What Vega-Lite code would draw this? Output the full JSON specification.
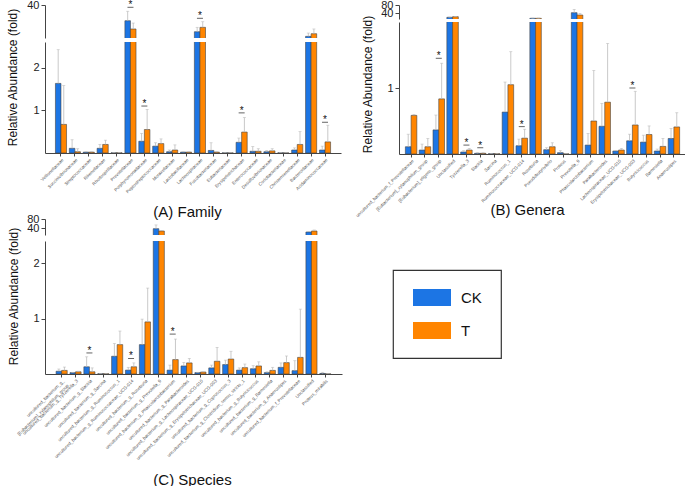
{
"$schema": "https://vega.github.io/schema/vega-lite/v6.json",
"padding": {"left": 5, "top": -1, "right": 0, "bottom": 0},
"datasets": {
"fam": [
{"taxon":"Veillonellaceae","group":"CK","mean":1.63,"upper":2.42},{"taxon":"Veillonellaceae","group":"T","mean":0.67,"upper":1.58},
{"taxon":"Succinivibrionaceae","group":"CK","mean":0.11,"upper":0.31},{"taxon":"Succinivibrionaceae","group":"T","mean":0.03,"upper":0.1},
{"taxon":"Streptococcaceae","group":"CK","mean":0.02,"upper":0.03},{"taxon":"Streptococcaceae","group":"T","mean":0.02,"upper":0.03},
{"taxon":"Rikenellaceae","group":"CK","mean":0.11,"upper":0.2},{"taxon":"Rikenellaceae","group":"T","mean":0.2,"upper":0.3},
{"taxon":"Rhodospirillaceae","group":"CK","mean":0.005,"upper":0.01},{"taxon":"Rhodospirillaceae","group":"T","mean":0.005,"upper":0.01},
{"taxon":"Prevotellaceae","group":"CK","mean":25.7,"upper":34.3},{"taxon":"Prevotellaceae","group":"T","mean":18.2,"upper":23.6},
{"taxon":"Porphyromonadaceae","group":"CK","mean":0.275,"upper":0.46},{"taxon":"Porphyromonadaceae","group":"T","mean":0.55,"upper":1.02},
{"taxon":"Peptostreptococcaceae","group":"CK","mean":0.16,"upper":0.24},{"taxon":"Peptostreptococcaceae","group":"T","mean":0.22,"upper":0.33},
{"taxon":"Moraxellaceae","group":"CK","mean":0.03,"upper":0.07},{"taxon":"Moraxellaceae","group":"T","mean":0.07,"upper":0.19},
{"taxon":"Lactobacillaceae","group":"CK","mean":0.02,"upper":0.03},{"taxon":"Lactobacillaceae","group":"T","mean":0.02,"upper":0.03},
{"taxon":"Lachnospiraceae","group":"CK","mean":15.7,"upper":19.7},{"taxon":"Lachnospiraceae","group":"T","mean":19.7,"upper":24.8},
{"taxon":"Fusobacteriaceae","group":"CK","mean":0.06,"upper":0.24},{"taxon":"Fusobacteriaceae","group":"T","mean":0.02,"upper":0.03},
{"taxon":"Eubacteriaceae","group":"CK","mean":0.005,"upper":0.01},{"taxon":"Eubacteriaceae","group":"T","mean":0.002,"upper":0.005},
{"taxon":"Erysipelotrichaceae","group":"CK","mean":0.25,"upper":0.35},{"taxon":"Erysipelotrichaceae","group":"T","mean":0.49,"upper":0.83},
{"taxon":"Enterococcaceae","group":"CK","mean":0.04,"upper":0.15},{"taxon":"Enterococcaceae","group":"T","mean":0.04,"upper":0.1},
{"taxon":"Desulfovibrionaceae","group":"CK","mean":0.03,"upper":0.06},{"taxon":"Desulfovibrionaceae","group":"T","mean":0.05,"upper":0.1},
{"taxon":"Coriobacteriaceae","group":"CK","mean":0.005,"upper":0.01},{"taxon":"Coriobacteriaceae","group":"T","mean":0.002,"upper":0.005},
{"taxon":"Christensenellaceae","group":"CK","mean":0.07,"upper":0.12},{"taxon":"Christensenellaceae","group":"T","mean":0.2,"upper":0.5},
{"taxon":"Bacteroidaceae","group":"CK","mean":11.5,"upper":14.5},{"taxon":"Bacteroidaceae","group":"T","mean":13.9,"upper":18.2},
{"taxon":"Acidaminococcaceae","group":"CK","mean":0.07,"upper":0.16},{"taxon":"Acidaminococcaceae","group":"T","mean":0.26,"upper":0.65}
],
"famSig": [
{"taxon":"Prevotellaceae","star":37.9},{"taxon":"Porphyromonadaceae","star":1.1},{"taxon":"Lachnospiraceae","star":27.9},{"taxon":"Erysipelotrichaceae","star":0.94},{"taxon":"Acidaminococcaceae","star":0.72}
],
"gen": [
{"taxon":"uncultured_bacterium_f_Prevotellaceae","group":"CK","mean":0.11,"upper":0.3},{"taxon":"uncultured_bacterium_f_Prevotellaceae","group":"T","mean":0.585,"upper":0.6},
{"taxon":"[Eubacterium]_xylanophilum_group","group":"CK","mean":0.06,"upper":0.15},{"taxon":"[Eubacterium]_xylanophilum_group","group":"T","mean":0.11,"upper":0.235},
{"taxon":"[Eubacterium]_eligens_group","group":"CK","mean":0.365,"upper":0.59},{"taxon":"[Eubacterium]_eligens_group","group":"T","mean":0.835,"upper":1.375},
{"taxon":"Unclassified","group":"CK","mean":18.5,"upper":20},{"taxon":"Unclassified","group":"T","mean":21.5,"upper":23},
{"taxon":"Tyzzerella_3","group":"CK","mean":0.03,"upper":0.05},{"taxon":"Tyzzerella_3","group":"T","mean":0.06,"upper":0.085},
{"taxon":"Slackia","group":"CK","mean":0.01,"upper":0.02},{"taxon":"Slackia","group":"T","mean":0.01,"upper":0.02},
{"taxon":"Sarcina","group":"CK","mean":0.005,"upper":0.008},{"taxon":"Sarcina","group":"T","mean":0.005,"upper":0.008},
{"taxon":"Ruminococcus_1","group":"CK","mean":0.635,"upper":1.09},{"taxon":"Ruminococcus_1","group":"T","mean":1.05,"upper":1.55},
{"taxon":"Ruminococcaceae_UCG-014","group":"CK","mean":0.125,"upper":0.225},{"taxon":"Ruminococcaceae_UCG-014","group":"T","mean":0.24,"upper":0.375},
{"taxon":"Roseburia","group":"CK","mean":13.5,"upper":15},{"taxon":"Roseburia","group":"T","mean":13.5,"upper":15},
{"taxon":"Pseudobutyrivibrio","group":"CK","mean":0.065,"upper":0.095},{"taxon":"Pseudobutyrivibrio","group":"T","mean":0.11,"upper":0.17},
{"taxon":"Proteus","group":"CK","mean":0.02,"upper":0.05},{"taxon":"Proteus","group":"T","mean":0.002,"upper":0.004},
{"taxon":"Prevotella_9","group":"CK","mean":41.5,"upper":58},{"taxon":"Prevotella_9","group":"T","mean":30,"upper":38},
{"taxon":"Phascolarctobacterium","group":"CK","mean":0.135,"upper":0.31},{"taxon":"Phascolarctobacterium","group":"T","mean":0.5,"upper":1.265},
{"taxon":"Parabacteroides","group":"CK","mean":0.42,"upper":0.765},{"taxon":"Parabacteroides","group":"T","mean":0.785,"upper":1.675},
{"taxon":"Lachnospiraceae_UCG-010","group":"CK","mean":0.045,"upper":0.05},{"taxon":"Lachnospiraceae_UCG-010","group":"T","mean":0.06,"upper":0.085},
{"taxon":"Erysipelotrichaceae_UCG-003","group":"CK","mean":0.2,"upper":0.3},{"taxon":"Erysipelotrichaceae_UCG-003","group":"T","mean":0.44,"upper":0.95},
{"taxon":"Butyricicoccus","group":"CK","mean":0.18,"upper":0.285},{"taxon":"Butyricicoccus","group":"T","mean":0.295,"upper":0.425},
{"taxon":"Barnesiella","group":"CK","mean":0.045,"upper":0.075},{"taxon":"Barnesiella","group":"T","mean":0.115,"upper":0.235},
{"taxon":"Anaerostipes","group":"CK","mean":0.235,"upper":0.385},{"taxon":"Anaerostipes","group":"T","mean":0.41,"upper":0.625}
],
"genSig": [
{"taxon":"[Eubacterium]_eligens_group","star":1.45},{"taxon":"Tyzzerella_3","star":0.135},{"taxon":"Slackia","star":0.095},{"taxon":"Ruminococcaceae_UCG-014","star":0.415},{"taxon":"Erysipelotrichaceae_UCG-003","star":1.0}
],
"spe": [
{"taxon":"uncultured_bacterium_g_|[Eubacterium]_xylanophilum_group","group":"CK","mean":0.05,"upper":0.09},{"taxon":"uncultured_bacterium_g_|[Eubacterium]_xylanophilum_group","group":"T","mean":0.065,"upper":0.125},
{"taxon":"uncultured_bacterium_g_Tyzzerella_3","group":"CK","mean":0.025,"upper":0.03},{"taxon":"uncultured_bacterium_g_Tyzzerella_3","group":"T","mean":0.04,"upper":0.05},
{"taxon":"uncultured_bacterium_g_Slackia","group":"CK","mean":0.13,"upper":0.31},{"taxon":"uncultured_bacterium_g_Slackia","group":"T","mean":0.04,"upper":0.11},
{"taxon":"uncultured_bacterium_g_Sarcina","group":"CK","mean":0.005,"upper":0.008},{"taxon":"uncultured_bacterium_g_Sarcina","group":"T","mean":0.005,"upper":0.008},
{"taxon":"uncultured_bacterium_g_Ruminococcus_1","group":"CK","mean":0.32,"upper":0.55},{"taxon":"uncultured_bacterium_g_Ruminococcus_1","group":"T","mean":0.53,"upper":0.775},
{"taxon":"uncultured_bacterium_g_Ruminococcaceae_UCG-014","group":"CK","mean":0.07,"upper":0.12},{"taxon":"uncultured_bacterium_g_Ruminococcaceae_UCG-014","group":"T","mean":0.13,"upper":0.2},
{"taxon":"uncultured_bacterium_g_Roseburia","group":"CK","mean":0.53,"upper":0.99},{"taxon":"uncultured_bacterium_g_Roseburia","group":"T","mean":0.94,"upper":1.55},
{"taxon":"uncultured_bacterium_g_Prevotella_9","group":"CK","mean":37.6,"upper":54},{"taxon":"uncultured_bacterium_g_Prevotella_9","group":"T","mean":27.5,"upper":30},
{"taxon":"uncultured_bacterium_g_Phascolarctobacterium","group":"CK","mean":0.07,"upper":0.16},{"taxon":"uncultured_bacterium_g_Phascolarctobacterium","group":"T","mean":0.26,"upper":0.63},
{"taxon":"uncultured_bacterium_g_Parabacteroides","group":"CK","mean":0.145,"upper":0.21},{"taxon":"uncultured_bacterium_g_Parabacteroides","group":"T","mean":0.2,"upper":0.28},
{"taxon":"uncultured_bacterium_g_Lachnospiraceae_UCG-010","group":"CK","mean":0.025,"upper":0.03},{"taxon":"uncultured_bacterium_g_Lachnospiraceae_UCG-010","group":"T","mean":0.035,"upper":0.04},
{"taxon":"uncultured_bacterium_g_Erysipelotrichaceae_UCG-003","group":"CK","mean":0.11,"upper":0.16},{"taxon":"uncultured_bacterium_g_Erysipelotrichaceae_UCG-003","group":"T","mean":0.23,"upper":0.48},
{"taxon":"uncultured_bacterium_g_Coprococcus_3","group":"CK","mean":0.17,"upper":0.25},{"taxon":"uncultured_bacterium_g_Coprococcus_3","group":"T","mean":0.27,"upper":0.41},
{"taxon":"uncultured_bacterium_g_Clostridium_sensu_stricto_1","group":"CK","mean":0.07,"upper":0.11},{"taxon":"uncultured_bacterium_g_Clostridium_sensu_stricto_1","group":"T","mean":0.115,"upper":0.18},
{"taxon":"uncultured_bacterium_g_Butyricicoccus","group":"CK","mean":0.095,"upper":0.15},{"taxon":"uncultured_bacterium_g_Butyricicoccus","group":"T","mean":0.145,"upper":0.22},
{"taxon":"uncultured_bacterium_g_Barnesiella","group":"CK","mean":0.025,"upper":0.04},{"taxon":"uncultured_bacterium_g_Barnesiella","group":"T","mean":0.065,"upper":0.12},
{"taxon":"uncultured_bacterium_g_Anaerostipes","group":"CK","mean":0.12,"upper":0.2},{"taxon":"uncultured_bacterium_g_Anaerostipes","group":"T","mean":0.205,"upper":0.325},
{"taxon":"uncultured_bacterium_f_Prevotellaceae","group":"CK","mean":0.06,"upper":0.24},{"taxon":"uncultured_bacterium_f_Prevotellaceae","group":"T","mean":0.3,"upper":1.17},
{"taxon":"Unclassified","group":"CK","mean":23,"upper":25},{"taxon":"Unclassified","group":"T","mean":27.5,"upper":32},
{"taxon":"Proteus_mirabilis","group":"CK","mean":0.01,"upper":0.03},{"taxon":"Proteus_mirabilis","group":"T","mean":0.002,"upper":0.004}
],
"speSig": [
{"taxon":"uncultured_bacterium_g_Slackia","star":0.38},{"taxon":"uncultured_bacterium_g_Ruminococcaceae_UCG-014","star":0.28},{"taxon":"uncultured_bacterium_g_Phascolarctobacterium","star":0.72}
]
},
"resolve": {"scale": {"x": "independent", "y": "independent", "xOffset": "independent", "color": "shared"}},
"spacing": 12,
"hconcat": [
{
"spacing": -9,
"resolve": {"scale": {"x": "independent", "y": "independent", "xOffset": "independent"}},
"vconcat": [
{
"bounds": "flush",
"spacing": 4,
"resolve": {"scale": {"x": "independent", "y": "independent", "xOffset": "independent"}},
"vconcat": [
{
"width": 296, "height": 33,
"layer": [
{"data": {"name": "fam"}, "mark": {"type": "bar", "clip": true, "stroke": "#444", "strokeWidth": 0.6},
 "encoding": {
  "x": {"field": "taxon", "type": "nominal", "sort": null, "scale": {"paddingInner": 0.2, "paddingOuter": 0.75}, "axis": null},
  "xOffset": {"field": "group", "type": "nominal"},
  "y": {"field": "mean", "type": "quantitative", "scale": {"domain": [10, 40]}, "axis": {"values": [40], "title": null, "format": "d"}},
  "y2": {"datum": 0},
  "color": {"field": "group", "type": "nominal", "scale": {"domain": ["CK", "T"], "range": ["#1c75e4", "#ff8500"]}, "legend": {"title": null}}
 }},
{"data": {"name": "fam"}, "mark": {"type": "rule", "clip": true, "color": "#bbbbbb", "strokeWidth": 0.8},
 "encoding": {"x": {"field": "taxon", "type": "nominal", "sort": null}, "xOffset": {"field": "group", "type": "nominal"}, "y": {"field": "mean", "type": "quantitative"}, "y2": {"field": "upper"}}},
{"data": {"name": "fam"}, "mark": {"type": "tick", "clip": true, "color": "#bbbbbb", "size": 3, "thickness": 0.8},
 "encoding": {"x": {"field": "taxon", "type": "nominal", "sort": null}, "xOffset": {"field": "group", "type": "nominal"}, "y": {"field": "upper", "type": "quantitative"}}},
{"data": {"name": "famSig"}, "transform": [{"filter": "datum.star > 5"}], "mark": {"type": "tick", "color": "#222", "size": 6, "thickness": 1},
 "encoding": {"x": {"field": "taxon", "type": "nominal", "sort": null}, "y": {"field": "star", "type": "quantitative"}}},
{"data": {"name": "famSig"}, "transform": [{"filter": "datum.star > 5"}], "mark": {"type": "text", "text": "*", "baseline": "bottom", "dy": 3, "fontSize": 10, "color": "#111"},
 "encoding": {"x": {"field": "taxon", "type": "nominal", "sort": null}, "y": {"field": "star", "type": "quantitative"}}}
]
},
{
"width": 296, "height": 111,
"layer": [
{"data": {"name": "fam"}, "mark": {"type": "bar", "clip": true, "stroke": "#444", "strokeWidth": 0.6},
 "encoding": {
  "x": {"field": "taxon", "type": "nominal", "sort": null, "scale": {"paddingInner": 0.2, "paddingOuter": 0.75}, "axis": {"title": "(A) Family", "titleX": 142, "titleY": 63, "titleBaseline": "alphabetic", "titleAlign": "center"}},
  "xOffset": {"field": "group", "type": "nominal"},
  "y": {"field": "mean", "type": "quantitative", "scale": {"domain": [0, 2.467]}, "axis": {"values": [1, 2], "format": "d", "title": "Relative Abundance (fold)", "titleX": -26, "titleY": 35}},
  "y2": {"datum": 0},
  "color": {"field": "group", "type": "nominal", "scale": {"domain": ["CK", "T"], "range": ["#1c75e4", "#ff8500"]}, "legend": {"title": null}}
 }},
{"data": {"name": "fam"}, "mark": {"type": "rule", "clip": true, "color": "#bbbbbb", "strokeWidth": 0.8},
 "encoding": {"x": {"field": "taxon", "type": "nominal", "sort": null}, "xOffset": {"field": "group", "type": "nominal"}, "y": {"field": "mean", "type": "quantitative"}, "y2": {"field": "upper"}}},
{"data": {"name": "fam"}, "mark": {"type": "tick", "clip": true, "color": "#bbbbbb", "size": 3, "thickness": 0.8},
 "encoding": {"x": {"field": "taxon", "type": "nominal", "sort": null}, "xOffset": {"field": "group", "type": "nominal"}, "y": {"field": "upper", "type": "quantitative"}}},
{"data": {"name": "famSig"}, "transform": [{"filter": "datum.star < 3"}], "mark": {"type": "tick", "color": "#222", "size": 6, "thickness": 1},
 "encoding": {"x": {"field": "taxon", "type": "nominal", "sort": null}, "y": {"field": "star", "type": "quantitative"}}},
{"data": {"name": "famSig"}, "transform": [{"filter": "datum.star < 3"}], "mark": {"type": "text", "text": "*", "baseline": "bottom", "dy": 3, "fontSize": 10, "color": "#111"},
 "encoding": {"x": {"field": "taxon", "type": "nominal", "sort": null}, "y": {"field": "star", "type": "quantitative"}}}
]
}
]
},
{
"bounds": "flush",
"spacing": 6,
"resolve": {"scale": {"x": "independent", "y": "independent", "xOffset": "independent"}},
"vconcat": [
{
"width": 297, "height": 16,
"layer": [
{"data": {"name": "spe"}, "mark": {"type": "bar", "clip": true, "stroke": "#444", "strokeWidth": 0.6},
 "encoding": {
  "x": {"field": "taxon", "type": "nominal", "sort": null, "scale": {"paddingInner": 0.2, "paddingOuter": 0.8}, "axis": null},
  "xOffset": {"field": "group", "type": "nominal"},
  "y": {"field": "mean", "type": "quantitative", "scale": {"domain": [10, 80]}, "axis": {"values": [40, 80], "title": null, "format": "d"}},
  "y2": {"datum": 0},
  "color": {"field": "group", "type": "nominal", "scale": {"domain": ["CK", "T"], "range": ["#1c75e4", "#ff8500"]}, "legend": {"title": null}}
 }},
{"data": {"name": "spe"}, "mark": {"type": "rule", "clip": true, "color": "#bbbbbb", "strokeWidth": 0.8},
 "encoding": {"x": {"field": "taxon", "type": "nominal", "sort": null}, "xOffset": {"field": "group", "type": "nominal"}, "y": {"field": "mean", "type": "quantitative"}, "y2": {"field": "upper"}}},
{"data": {"name": "spe"}, "mark": {"type": "tick", "clip": true, "color": "#bbbbbb", "size": 3, "thickness": 0.8},
 "encoding": {"x": {"field": "taxon", "type": "nominal", "sort": null}, "xOffset": {"field": "group", "type": "nominal"}, "y": {"field": "upper", "type": "quantitative"}}}
]
},
{
"width": 297, "height": 133,
"layer": [
{"data": {"name": "spe"}, "mark": {"type": "bar", "clip": true, "stroke": "#444", "strokeWidth": 0.6},
 "encoding": {
  "x": {"field": "taxon", "type": "nominal", "sort": null, "scale": {"paddingInner": 0.2, "paddingOuter": 0.8}, "axis": {"title": "(C) Species", "labelExpr": "split(datum.label, '|')", "titleX": 147, "titleY": 110, "titleBaseline": "alphabetic", "titleAlign": "center"}},
  "xOffset": {"field": "group", "type": "nominal"},
  "y": {"field": "mean", "type": "quantitative", "scale": {"domain": [0, 2.4]}, "axis": {"values": [1, 2], "format": "d", "title": "Relative Abundance (fold)", "titleX": -25, "titleY": 55}},
  "y2": {"datum": 0},
  "color": {"field": "group", "type": "nominal", "scale": {"domain": ["CK", "T"], "range": ["#1c75e4", "#ff8500"]}, "legend": {"title": null}}
 }},
{"data": {"name": "spe"}, "mark": {"type": "rule", "clip": true, "color": "#bbbbbb", "strokeWidth": 0.8},
 "encoding": {"x": {"field": "taxon", "type": "nominal", "sort": null}, "xOffset": {"field": "group", "type": "nominal"}, "y": {"field": "mean", "type": "quantitative"}, "y2": {"field": "upper"}}},
{"data": {"name": "spe"}, "mark": {"type": "tick", "clip": true, "color": "#bbbbbb", "size": 3, "thickness": 0.8},
 "encoding": {"x": {"field": "taxon", "type": "nominal", "sort": null}, "xOffset": {"field": "group", "type": "nominal"}, "y": {"field": "upper", "type": "quantitative"}}},
{"data": {"name": "speSig"}, "mark": {"type": "tick", "color": "#222", "size": 6, "thickness": 1},
 "encoding": {"x": {"field": "taxon", "type": "nominal", "sort": null}, "y": {"field": "star", "type": "quantitative"}}},
{"data": {"name": "speSig"}, "mark": {"type": "text", "text": "*", "baseline": "bottom", "dy": 3, "fontSize": 10, "color": "#111"},
 "encoding": {"x": {"field": "taxon", "type": "nominal", "sort": null}, "y": {"field": "star", "type": "quantitative"}}}
]
}
]
}
]
},
{
"bounds": "flush",
"spacing": 3,
"resolve": {"scale": {"x": "independent", "y": "independent", "xOffset": "independent"}},
"vconcat": [
{
"width": 287, "height": 14,
"layer": [
{"data": {"name": "gen"}, "mark": {"type": "bar", "clip": true, "stroke": "#444", "strokeWidth": 0.6},
 "encoding": {
  "x": {"field": "taxon", "type": "nominal", "sort": null, "scale": {"paddingInner": 0.17, "paddingOuter": 0.46}, "axis": null},
  "xOffset": {"field": "group", "type": "nominal"},
  "y": {"field": "mean", "type": "quantitative", "scale": {"domain": [10, 80]}, "axis": {"values": [40, 80], "title": null, "format": "d"}},
  "y2": {"datum": 0},
  "color": {"field": "group", "type": "nominal", "scale": {"domain": ["CK", "T"], "range": ["#1c75e4", "#ff8500"]}, "legend": {"title": null}}
 }},
{"data": {"name": "gen"}, "mark": {"type": "rule", "clip": true, "color": "#bbbbbb", "strokeWidth": 0.8},
 "encoding": {"x": {"field": "taxon", "type": "nominal", "sort": null}, "xOffset": {"field": "group", "type": "nominal"}, "y": {"field": "mean", "type": "quantitative"}, "y2": {"field": "upper"}}},
{"data": {"name": "gen"}, "mark": {"type": "tick", "clip": true, "color": "#bbbbbb", "size": 3, "thickness": 0.8},
 "encoding": {"x": {"field": "taxon", "type": "nominal", "sort": null}, "xOffset": {"field": "group", "type": "nominal"}, "y": {"field": "upper", "type": "quantitative"}}}
]
},
{
"width": 287, "height": 132,
"layer": [
{"data": {"name": "gen"}, "mark": {"type": "bar", "clip": true, "stroke": "#444", "strokeWidth": 0.6},
 "encoding": {
  "x": {"field": "taxon", "type": "nominal", "sort": null, "scale": {"paddingInner": 0.17, "paddingOuter": 0.46}, "axis": {"title": "(B) Genera", "titleX": 128, "titleY": 60, "titleBaseline": "alphabetic", "titleAlign": "center"}},
  "xOffset": {"field": "group", "type": "nominal"},
  "y": {"field": "mean", "type": "quantitative", "scale": {"domain": [0, 1.98]}, "axis": {"values": [1], "format": "d", "title": "Relative Abundance (fold)", "titleX": -25, "titleY": 62}},
  "y2": {"datum": 0},
  "color": {"field": "group", "type": "nominal", "scale": {"domain": ["CK", "T"], "range": ["#1c75e4", "#ff8500"]}, "legend": {"title": null}}
 }},
{"data": {"name": "gen"}, "mark": {"type": "rule", "clip": true, "color": "#bbbbbb", "strokeWidth": 0.8},
 "encoding": {"x": {"field": "taxon", "type": "nominal", "sort": null}, "xOffset": {"field": "group", "type": "nominal"}, "y": {"field": "mean", "type": "quantitative"}, "y2": {"field": "upper"}}},
{"data": {"name": "gen"}, "mark": {"type": "tick", "clip": true, "color": "#bbbbbb", "size": 3, "thickness": 0.8},
 "encoding": {"x": {"field": "taxon", "type": "nominal", "sort": null}, "xOffset": {"field": "group", "type": "nominal"}, "y": {"field": "upper", "type": "quantitative"}}},
{"data": {"name": "genSig"}, "mark": {"type": "tick", "color": "#222", "size": 6, "thickness": 1},
 "encoding": {"x": {"field": "taxon", "type": "nominal", "sort": null}, "y": {"field": "star", "type": "quantitative"}}},
{"data": {"name": "genSig"}, "mark": {"type": "text", "text": "*", "baseline": "bottom", "dy": 3, "fontSize": 10, "color": "#111"},
 "encoding": {"x": {"field": "taxon", "type": "nominal", "sort": null}, "y": {"field": "star", "type": "quantitative"}}}
]
}
]
}
],
"config": {
 "font": "Liberation Sans",
 "view": {"stroke": null},
 "axis": {"grid": false, "domainColor": "#444", "tickColor": "#444", "labelColor": "#222", "labelFont": "Liberation Sans", "titleFont": "Liberation Sans", "titleFontWeight": "normal", "titleColor": "#111"},
 "axisY": {"labelFontSize": 11, "tickSize": 4, "titleFontSize": 12, "labelPadding": 2},
 "axisX": {"labelFontSize": 4.5, "labelAngle": -45, "tickSize": 3, "titleFontSize": 15, "labelColor": "#555", "labelPadding": 1, "labelLimit": 0},
 "legend": {"orient": "none", "legendX": 348, "legendY": 265, "strokeColor": "#333", "strokeWidth": 1.2, "padding": 19, "symbolOffset": 1, "clipHeight": 17, "symbolType": "M-1,-0.45H1V0.45H-1Z", "symbolSize": 1444, "symbolStrokeWidth": 0, "symbolOpacity": 1, "labelFontSize": 15, "labelOffset": 10, "rowPadding": 16, "labelColor": "#111"}
}
}
